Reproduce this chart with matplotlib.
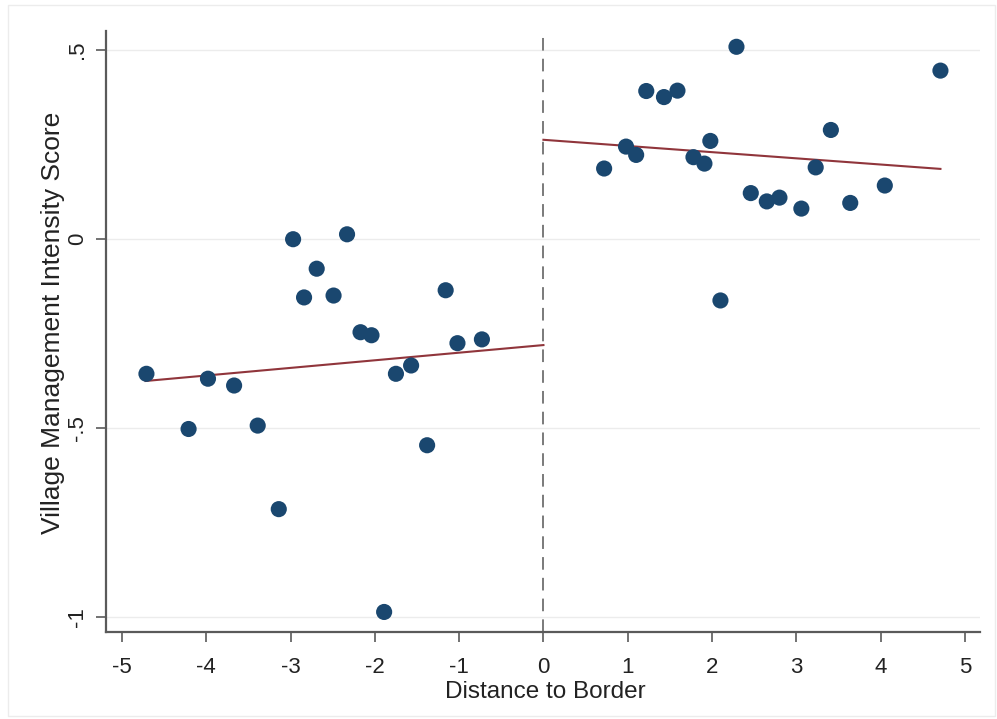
import numpy as np
import matplotlib
matplotlib.use("Agg")
import matplotlib.pyplot as plt
from matplotlib.patches import Rectangle

plt.rcParams["font.family"] = ["Liberation Sans", "DejaVu Sans"]

# villages on the left side of the border
left_x = [-4.71, -4.21, -3.98, -3.67, -3.39, -3.14, -2.97, -2.84, -2.69, -2.49,
          -2.33, -2.17, -2.04, -1.89, -1.75, -1.57, -1.38, -1.16, -1.02, -0.73]
left_y = [-0.357, -0.503, -0.370, -0.388, -0.494, -0.715, -0.001, -0.155, -0.079, -0.150,
          0.012, -0.247, -0.255, -0.987, -0.357, -0.335, -0.546, -0.136, -0.276, -0.266]

# villages on the right side of the border
right_x = [0.72, 0.98, 1.10, 1.22, 1.43, 1.59, 1.78, 1.91, 1.98, 2.10,
           2.29, 2.46, 2.65, 2.80, 3.06, 3.23, 3.41, 3.64, 4.05, 4.71]
right_y = [0.186, 0.244, 0.222, 0.391, 0.375, 0.392, 0.216, 0.199, 0.259, -0.163,
           0.508, 0.121, 0.099, 0.109, 0.080, 0.189, 0.288, 0.095, 0.141, 0.445]

# fitted lines on each side (endpoints)
left_fit_x = [-4.72, 0.0]
left_fit_y = [-0.376, -0.281]
right_fit_x = [0.0, 4.71]
right_fit_y = [0.262, 0.185]

xticks = [-5, -4, -3, -2, -1, 0, 1, 2, 3, 4, 5]
yticks = [0.5, 0, -0.5, -1]
ytick_labels = [".5", "0", "-.5", "-1"]

navy = "#1a476f"
maroon = "#90353b"
frame = "#5a5a5a"
txt = "#222222"

fig = plt.figure(figsize=(9.97, 7.19), dpi=100)
ax = fig.add_axes([0.1063, 0.121, 0.8767, 0.836])

# faint outer border around the graph region
fig.patches.append(Rectangle((0.008, 0.004), 0.99, 0.989, transform=fig.transFigure,
                             fill=False, edgecolor="#ececec", linewidth=1.0))

for y in yticks:
    ax.axhline(y, color="#ececec", linewidth=1.0, zorder=0)

ax.axvline(0, color="#707070", linewidth=1.3, linestyle=(0, (7, 4.5)), zorder=1)

ax.scatter(left_x, left_y, s=135, color=navy, edgecolors="none", zorder=3)
ax.scatter(right_x, right_y, s=135, color=navy, edgecolors="none", zorder=3)

ax.plot(left_fit_x, left_fit_y, color=maroon, linewidth=1.5, zorder=2)
ax.plot(right_fit_x, right_fit_y, color=maroon, linewidth=1.5, zorder=2)

ax.set_xlim(-5.19, 5.18)
ax.set_ylim(-1.04, 0.55)

ax.set_xticks(xticks)
ax.set_xticklabels([str(t) for t in xticks])
ax.set_yticks(yticks)
ax.set_yticklabels(ytick_labels, rotation=90, va="center")

for side in ["top", "right"]:
    ax.spines[side].set_visible(False)
for side in ["left", "bottom"]:
    ax.spines[side].set_color(frame)
    ax.spines[side].set_linewidth(1.6)

ax.tick_params(axis="both", direction="out", length=7, width=1.2, color=frame,
               labelsize=16, labelcolor=txt)
ax.tick_params(axis="x", pad=11)
ax.tick_params(axis="y", pad=6)

ax.set_xlabel("Distance to Border", fontsize=17.5, color=txt)
ax.set_ylabel("Village Management Intensity Score", fontsize=19, color=txt)
ax.xaxis.set_label_coords(0.503, -0.081)
ax.yaxis.set_label_coords(-0.047, 0.515)

fig.savefig("out.png", dpi=100, facecolor="white")
